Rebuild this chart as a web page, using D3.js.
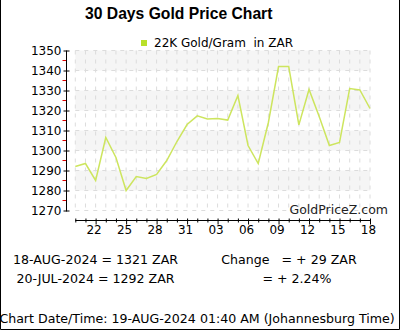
<!DOCTYPE html>
<meta charset="utf-8">
<script src="https://cdn.jsdelivr.net/npm/d3@7"></script>
<style>
body { margin: 0; background: #fff; }
svg { display: block; font-family: "DejaVu Sans", sans-serif; }
text { white-space: pre; }
.grid { stroke: #dcdcdc; stroke-dasharray: 4,5; stroke-width: 1; }
.line { fill: none; stroke: #cde55e; stroke-width: 1.5px; }
</style>
<body>
<script>
// chart data
var dates = ["2024-07-20","2024-07-21","2024-07-22","2024-07-23","2024-07-24","2024-07-25",
  "2024-07-26","2024-07-27","2024-07-28","2024-07-29","2024-07-30","2024-07-31",
  "2024-08-01","2024-08-02","2024-08-03","2024-08-04","2024-08-05","2024-08-06",
  "2024-08-07","2024-08-08","2024-08-09","2024-08-10","2024-08-11","2024-08-12",
  "2024-08-13","2024-08-14","2024-08-15","2024-08-16","2024-08-17","2024-08-18"];
var prices = [1292, 1293.5, 1285, 1306.5, 1296.5, 1280, 1287, 1286, 1288, 1295,
  1304.5, 1313, 1317.3, 1315.8, 1316, 1315.2, 1327.5, 1302.5, 1293.5, 1314,
  1342, 1342, 1312.8, 1330.5, 1317, 1302.5, 1304, 1331, 1330.3, 1321];
var labelDates = ["2024-07-22","2024-07-25","2024-07-28","2024-07-31","2024-08-03",
  "2024-08-06","2024-08-09","2024-08-12","2024-08-15","2024-08-18"];
var labelText = ["22","25","28","31","03","06","09","12","15","18"];
var yTicks = [1270, 1280, 1290, 1300, 1310, 1320, 1330, 1340, 1350];
var yMinor = [1275, 1285, 1295, 1305, 1315, 1325, 1335, 1345];
var bands = [[1340, 1350], [1320, 1330], [1300, 1310], [1280, 1290]];

var width = 400, height = 330;
var x = d3.scalePoint().domain(dates).range([75.3, 370]);
var y = d3.scaleLinear().domain([1270, 1350]).range([210.5, 50.5]);

var svg = d3.select("body").append("svg")
    .attr("width", width)
    .attr("height", height);

// border (left, right, bottom)
svg.append("path")
    .attr("d", "M0.5,0V329.5H399.5V0")
    .attr("fill", "none")
    .attr("stroke", "#000");

// title
svg.append("text")
    .attr("x", 85).attr("y", 19)
    .style("font-family", "'Liberation Sans', Arial, sans-serif")
    .style("font-weight", "bold")
    .style("font-size", "15.7px")
    .text("30 Days Gold Price Chart");

// legend
svg.append("rect")
    .attr("x", 141).attr("y", 40).attr("width", 6).attr("height", 6)
    .attr("fill", "#b9e02a");
svg.append("text")
    .attr("x", 154).attr("y", 47)
    .style("font-size", "12px")
    .text("22K Gold/Gram  in ZAR");

// shaded bands
svg.selectAll(".band")
    .data(bands)
  .enter().append("rect")
    .attr("class", "band")
    .attr("x", x(dates[0]))
    .attr("width", x(dates[dates.length - 1]) - x(dates[0]))
    .attr("y", function(d) { return y(d[1]); })
    .attr("height", function(d) { return y(d[0]) - y(d[1]); })
    .attr("fill", "#f5f5f5");

// grid lines
svg.selectAll(".hgrid")
    .data(yTicks)
  .enter().append("line")
    .attr("class", "grid")
    .attr("x1", x(dates[0])).attr("x2", x(dates[dates.length - 1]))
    .attr("y1", function(d) { return y(d); })
    .attr("y2", function(d) { return y(d); });
svg.selectAll(".vgrid")
    .data(dates)
  .enter().append("line")
    .attr("class", "grid")
    .attr("x1", function(d) { return x(d); })
    .attr("x2", function(d) { return x(d); })
    .attr("y1", y(1350)).attr("y2", y(1270));

// y axis
var yAxis = svg.append("g")
    .attr("transform", "translate(66.5,0)")
    .call(d3.axisLeft(y).tickValues(yTicks).tickFormat(d3.format("d"))
      .tickSize(3).tickPadding(2));
yAxis.select(".domain").attr("d", "M0," + y(1350) + "V" + (y(1270) + 1)).attr("stroke", "#000");
yAxis.selectAll(".tick line").attr("x1", -3).attr("x2", 3).attr("stroke", "#000");
yAxis.selectAll(".tick text")
    .style("font-family", "'DejaVu Sans', sans-serif")
    .style("font-size", "12px")
    .attr("fill", "#000");
svg.selectAll(".minor")
    .data(yMinor)
  .enter().append("line")
    .attr("x1", 62.5).attr("x2", 66)
    .attr("y1", function(d) { return y(d); })
    .attr("y2", function(d) { return y(d); })
    .attr("stroke", "#e00000");

// price line
svg.append("path")
    .datum(prices)
    .attr("class", "line")
    .attr("d", d3.line()
      .x(function(d, i) { return x(dates[i]); })
      .y(function(d) { return y(d); }));

// watermark
svg.append("text")
    .attr("x", 388).attr("y", 214)
    .attr("text-anchor", "end")
    .attr("fill", "#222")
    .style("font-size", "12.5px")
    .text("GoldPriceZ.com");

// x axis
var xAxis = svg.append("g")
    .attr("transform", "translate(0,220.5)")
    .call(d3.axisBottom(x).tickValues(dates).tickSize(2)
      .tickFormat(function(d) {
        var k = labelDates.indexOf(d);
        return k < 0 ? "" : labelText[k];
      }));
xAxis.select(".domain").attr("d", "M" + x(dates[0]) + ",0H" + x(dates[dates.length - 1])).attr("stroke", "#000");
xAxis.selectAll(".tick line")
    .attr("y1", -2)
    .attr("y2", function(d) { return labelDates.indexOf(d) < 0 ? 2 : 4; })
    .attr("stroke", "#000");
xAxis.selectAll(".tick text")
    .attr("y", 5)
    .attr("x", -2)
    .style("font-family", "'DejaVu Sans', sans-serif")
    .style("font-size", "12px")
    .attr("fill", "#000");

// summary texts
var info = [
  {x: 95.5, y: 264, t: "18-AUG-2024 = 1321 ZAR"},
  {x: 95.5, y: 283, t: "20-JUL-2024 = 1292 ZAR"},
  {x: 289, y: 264, t: "Change   = + 29 ZAR"},
  {x: 297, y: 283, t: "= + 2.24%"},
  {x: 197, y: 323, t: "Chart Date/Time: 19-AUG-2024 01:40 AM (Johannesburg Time)"}
];
svg.selectAll(".info")
    .data(info)
  .enter().append("text")
    .attr("x", function(d) { return d.x; })
    .attr("y", function(d) { return d.y; })
    .attr("text-anchor", "middle")
    .style("font-size", "12.6px")
    .text(function(d) { return d.t; });
</script>
</body>
